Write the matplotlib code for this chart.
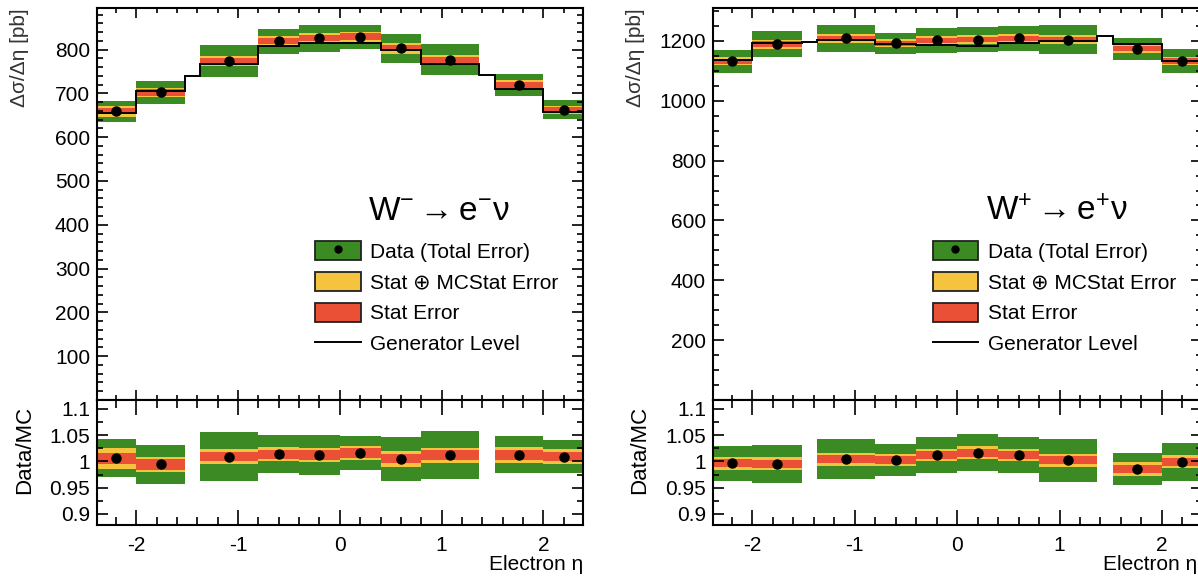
import numpy as np
import matplotlib
matplotlib.use("Agg")
import matplotlib.pyplot as plt
from matplotlib.patches import Patch
from matplotlib.lines import Line2D
from matplotlib.legend_handler import HandlerTuple
from matplotlib.ticker import MultipleLocator, FixedLocator, FormatStrFormatter

plt.rcParams['font.family'] = ['Liberation Sans', 'DejaVu Sans']
plt.rcParams['mathtext.fontset'] = 'custom'
plt.rcParams['mathtext.rm'] = 'Liberation Sans'
plt.rcParams['mathtext.it'] = 'Liberation Sans:italic'
plt.rcParams['axes.unicode_minus'] = False

# eta binning, bins 2 and 9 are the calorimeter crack (no data there)
eta_edges = [-2.4, -2.0, -1.52, -1.37, -0.8, -0.4, 0.0, 0.4, 0.8, 1.37, 1.52, 2.0, 2.4]
data_bins = [0, 1, 3, 4, 5, 6, 7, 8, 10, 11]

# W- -> e- nu  [pb]
wm_data = [659, 702, 774, 819, 826, 829, 803, 777, 720, 663]
wm_total = [24, 26, 36, 29, 31, 27, 33, 35, 25, 21]
wm_statmc = [13, 10, 11, 11, 11, 11, 12, 11, 11, 9]
wm_stat = [7, 7, 7, 7, 7, 8, 7, 7, 7, 6]
wm_gen = [655, 706, 739, 767, 808, 816, 816, 799, 768, 743, 711, 657]

# W+ -> e+ nu  [pb]
wp_data = [1132, 1189, 1208, 1192, 1202, 1204, 1208, 1204, 1174, 1133]
wp_total = [38, 43, 46, 36, 41, 42, 41, 49, 37, 41]
wp_statmc = [14, 15, 15, 14, 14, 14, 14, 15, 15, 14]
wp_stat = [9, 9, 9, 9, 9, 9, 9, 9, 9, 9]
wp_gen = [1136, 1194, 1195, 1203, 1189, 1187, 1184, 1193, 1201, 1217, 1191, 1134]

GREEN = '#3c8a23'
YELLOW = '#f6c33f'
RED = '#ea5036'
FS = 15


def style_axes(ax, xlen):
    ax.tick_params(which='both', direction='in', top=True, right=True,
                   labelsize=FS, width=1.2, colors='black')
    ax.tick_params(axis='x', which='major', length=xlen, pad=8)
    ax.tick_params(axis='x', which='minor', length=xlen / 2)
    ax.tick_params(axis='y', which='major', length=8, pad=5)
    ax.tick_params(axis='y', which='minor', length=4)
    ax.xaxis.set_major_locator(MultipleLocator(1))
    ax.xaxis.set_minor_locator(MultipleLocator(0.2))
    for s in ax.spines.values():
        s.set_linewidth(1.5)
    ax.set_xlim(-2.385, 2.39)


def draw_bands(ax, centers, widths, val, errs):
    for err, c in zip(errs, [GREEN, YELLOW, RED]):
        err = np.asarray(err, dtype=float)
        ax.bar(centers, 2 * err, bottom=val - err, width=widths,
               color=c, linewidth=0, zorder=1)


def draw_panel(fig, left, width, data, total, statmc, stat, gen, ylim, yticks,
               yminor, title, xlabel_x):
    edges = np.array(eta_edges)
    centers_all = 0.5 * (edges[1:] + edges[:-1])
    widths_all = edges[1:] - edges[:-1]
    centers = centers_all[data_bins]
    widths = widths_all[data_bins]
    data = np.array(data, dtype=float)
    gen = np.array(gen, dtype=float)
    gen_d = gen[data_bins]

    ax = fig.add_axes([left, 0.3068, width, 0.6794])
    rx = fig.add_axes([left, 0.0901, width, 0.2167], sharex=ax)

    draw_bands(ax, centers, widths, data, [total, statmc, stat])
    ax.stairs(gen, edges, baseline=None, color='black', lw=1.4, zorder=3)
    ax.plot(centers, data, 'o', color='black', ms=6.5, zorder=4)
    ax.set_ylim(*ylim)
    ax.yaxis.set_major_locator(FixedLocator(yticks))
    ax.yaxis.set_minor_locator(MultipleLocator(yminor))
    style_axes(ax, 7)
    ax.tick_params(axis='x', labelbottom=False)
    ax.set_ylabel('Δσ/Δη [pb]', fontsize=FS, color='#333333', loc='top')
    ax.yaxis.set_label_coords(-0.14, 1.0)

    ratio = data / gen_d
    rel = [np.asarray(e) / gen_d for e in (total, statmc, stat)]
    draw_bands(rx, centers, widths, ratio, rel)
    rx.plot(centers, ratio, 'o', color='black', ms=6.5, zorder=4)
    rx.set_ylim(0.879, 1.117)
    rx.yaxis.set_major_locator(FixedLocator([0.9, 0.95, 1.0, 1.05, 1.1]))
    rx.yaxis.set_minor_locator(MultipleLocator(0.025))
    rx.yaxis.set_major_formatter(FormatStrFormatter('%g'))
    style_axes(rx, 11)
    rx.set_ylabel('Data/MC', fontsize=FS + 1)
    rx.yaxis.set_label_coords(-0.128, 0.6)
    rx.set_xlabel('Electron η', fontsize=FS, ha='right')
    rx.xaxis.set_label_coords(xlabel_x, -0.24)

    ax.text(0.558, 0.48, title, transform=ax.transAxes, fontsize=24,
            va='center', ha='left')

    handles = [
        (Patch(facecolor=GREEN, edgecolor='#222222', lw=1.3),
         Line2D([], [], marker='o', ls='', color='black', ms=5)),
        Patch(facecolor=YELLOW, edgecolor='#222222', lw=1.3),
        Patch(facecolor=RED, edgecolor='#222222', lw=1.3),
        Line2D([], [], color='black', lw=1.4),
    ]
    labels = ['Data (Total Error)', 'Stat ⊕ MCStat Error', 'Stat Error',
              'Generator Level']
    ax.legend(handles, labels, loc='upper left', bbox_to_anchor=(0.449, 0.405),
              frameon=False, fontsize=FS, handlelength=2.2, handleheight=1.0,
              handletextpad=0.45, labelspacing=0.5, borderpad=0, borderaxespad=0,
              handler_map={tuple: HandlerTuple(ndivide=1)})
    return ax, rx


def main():
    fig = plt.figure(figsize=(11.98, 5.77), dpi=100)
    draw_panel(fig, 0.081, 0.4057, wm_data, wm_total, wm_statmc, wm_stat, wm_gen,
               (0, 895), list(range(100, 900, 100)), 20,
               r'$\mathrm{W^{-}\rightarrow e^{-}\nu}$', 1.0)
    draw_panel(fig, 0.5952, 0.408, wp_data, wp_total, wp_statmc, wp_stat, wp_gen,
               (0, 1310), list(range(200, 1400, 200)), 50,
               r'$\mathrm{W^{+}\rightarrow e^{+}\nu}$', 0.99)
    fig.savefig('out.png', dpi=100)


if __name__ == "__main__":
    main()
